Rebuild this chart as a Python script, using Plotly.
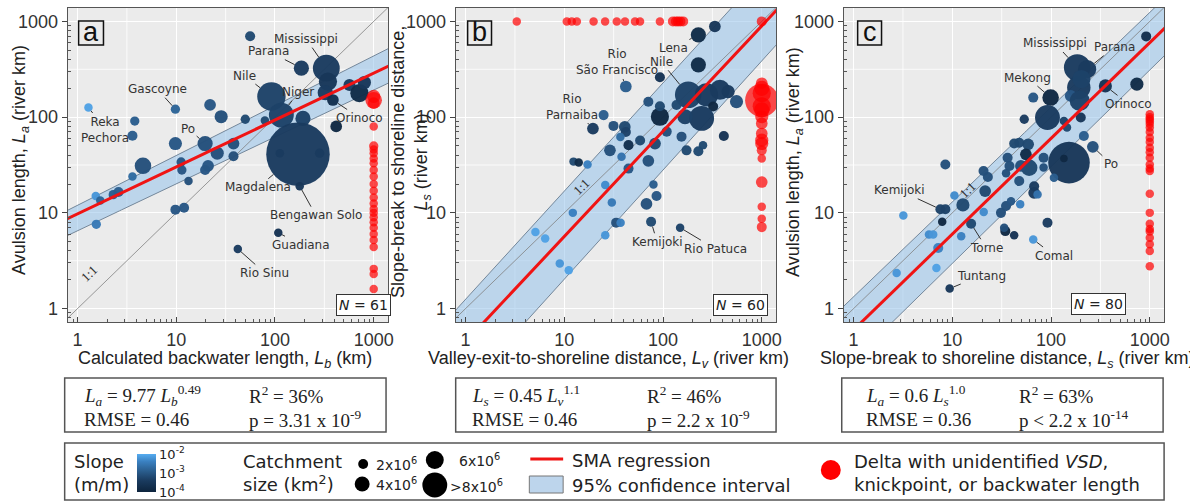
import numpy as np
import plotly.graph_objects as go

W, H = 1190, 501

# ------------------------------------------------------------------ data
# Panel a: calculated backwater length Lb (km) vs avulsion length La (river km)
a_Lb = [56, 185, 331, 344, 323, 386, 92, 116, 192, 79, 50, 568, 716, 805, 417, 171, 283, 112, 178, 108,
        42, 1.29, 3.8, 3.6, 9.8, 22, 28.5, 9.8, 19.6, 26, 38, 38, 4.6, 3.6, 11.2, 11.4, 21, 19.6, 13.3,
        1.53, 1.7, 2.3, 2.6, 1.55, 9.8, 12]
a_La = [700, 325, 325, 235, 180, 151, 164, 105, 97, 92, 95, 217, 178, 230, 80, 41, 42, 42, 19, 6.2,
        4.2, 126, 91, 64, 121, 134, 101, 53, 53, 42, 53, 39, 31, 24, 34, 28, 31, 28, 21.5,
        15, 13.5, 15.5, 16.5, 7.6, 10.8, 11.3]
a_area = [0.7, 1.6, 5.0, 2.3, 1.6, 0.95, 5.6, 4.3, 1.6, 0.5, 0.6, 1.0, 2.3, 1.2, 0.95, 28, 0.6, 0.5, 0.5, 0.5,
          0.5, 0.5, 0.6, 0.7, 0.6, 0.95, 1.2, 1.2, 1.6, 1.2, 0.95, 0.7, 1.9, 0.5, 0.6, 0.6, 0.95, 0.7, 0.5,
          0.5, 0.5, 0.6, 0.7, 0.6, 0.7, 0.7]
a_slope = [-3.2, -3.4, -3.4, -3.5, -3.4, -3.7, -3.3, -3.3, -3.3, -3.2, -3.2, -3.4, -3.8, -3.5, -3.9, -3.4, -3.4, -3.4, -3.5, -3.6,
           -3.4, -2.1, -2.9, -2.9, -2.8, -3.0, -3.1, -3.0, -3.1, -3.1, -3.1, -3.1, -3.1, -2.7, -3.0, -3.0, -3.0, -3.0, -3.1,
           -2.2, -2.8, -2.9, -2.9, -2.5, -3.0, -3.0]
a_labels = {"Parana": 1, "Mississippi": 2, "Orinoco": 5, "Nile": 6, "Niger": 7, "Magdalena": 15,
            "Bengawan Solo": 18, "Guadiana": 19, "Rio Sinu": 20, "Reka<br>Pechora": 21, "Gascoyne": 24, "Po": 28}
a_red_La = [165, 150, 140, 80, 50, 46, 42, 37, 33, 28, 24, 20, 17, 14.5, 12.5, 11, 10, 9, 8, 7, 6, 5.2, 4.4, 2.6, 2.3, 1.6]
a_red_area = [1.2, 1.9, 0.95, 0.5, 0.6, 0.5, 0.5, 0.5, 0.5, 0.5, 0.5, 0.5, 0.5, 0.5, 0.5, 0.5, 0.5, 0.5, 0.5, 0.5, 0.5, 0.5, 0.5, 0.5, 0.5, 0.5]

# Panel b: valley-exit-to-shoreline distance Lv vs slope-break-to-shoreline distance Ls
b_Lv = [335, 228, 228, 93, 42, 180, 276, 377, 457, 555, 322, 246, 167, 137, 93, 93, 71, 109, 154, 83,
        173, 228, 254, 413, 19.5, 25, 31.5, 41, 42, 44.7, 58.6, 37, 29, 38, 44.7, 71, 12.4, 14, 17.2, 26,
        80, 86, 68, 30.3, 12.2, 33.5, 37.2, 75.7, 149, 26, 5.1, 6.4, 9, 11.1]
b_Ls = [885, 724, 352, 261, 209, 171, 171, 193, 185, 145, 129, 97, 101, 134, 101, 130, 145, 70.6, 62.5, 53,
        45, 44, 51, 63.6, 76, 105, 81, 79, 70, 51, 57, 62, 45, 38.6, 29, 35, 34.3, 33.6, 32, 19.5,
        19.8, 15, 12.4, 12.8, 10, 7.9, 7.9, 8.07, 7.0, 5.85, 6.3, 5.4, 2.96, 2.52]
b_area = [0.95, 1.6, 1.6, 0.7, 0.95, 4.9, 3.8, 2.8, 1.2, 1.2, 0.7, 4.3, 1.6, 0.7, 2.3, 0.7, 0.7, 0.7, 0.7, 0.95,
          0.7, 0.7, 0.5, 0.7, 0.95, 0.7, 0.7, 0.95, 0.7, 0.7, 0.7, 0.5, 0.95, 0.5, 0.7, 0.95, 0.5, 0.5, 0.5, 0.5,
          0.5, 0.7, 0.95, 0.5, 0.5, 0.7, 0.5, 0.7, 0.5, 0.5, 0.5, 0.5, 0.5, 0.5]
b_slope = [-3.5, -3.8, -3.8, -3.6, -2.9, -3.3, -3.4, -3.4, -3.4, -3.1, -3.9, -3.4, -3.3, -3.2, -3.9, -3.2, -3.1, -3.1, -3.1, -3.2,
           -3.2, -3.2, -3.2, -3.6, -3.4, -2.9, -3.1, -3.2, -3.3, -3.7, -3.2, -2.7, -3.1, -2.6, -3.0, -3.1, -3.2, -3.8, -2.4, -2.3,
           -2.9, -3.0, -3.1, -2.5, -2.4, -3.1, -2.4, -3.2, -3.3, -2.2, -2.1, -2.1, -2.2, -2.1]
b_labels = {"Lena": 1, "Nile": 5, "Rio<br>São Francisco": 4, "Rio<br>Parnaiba": 24, "Kemijoki": 47, "Rio Patuca": 48}
b_red_Lv = [3.3, 10.6, 11.9, 13.4, 19.8, 25.9, 34, 41.2, 52, 58.5, 93, 126, 135, 142, 150, 160, 1000,
            1000, 1000, 1000, 1000, 1000, 1000, 1000, 1000, 1000, 1000, 1000, 1000, 1000, 1000, 1000, 1000, 1000]
b_red_Ls = [1000, 1000, 1000, 1000, 1000, 1000, 1000, 1000, 1000, 1000, 1000, 1000, 1000, 1000, 1000, 1000, 1000,
            226, 200, 178, 150, 130, 119, 101, 86, 67.5, 57.5, 53, 45, 37, 21, 11.6, 8.7, 7.1]
b_red_area = [0.5, 0.5, 0.5, 0.5, 0.5, 0.5, 0.5, 0.5, 0.5, 0.5, 0.5, 0.7, 0.7, 0.7, 0.7, 0.7, 0.7,
              0.95, 1.6, 2.3, 7.7, 2.3, 1.6, 1.2, 0.95, 0.95, 1.2, 1.2, 0.7, 0.5, 0.95, 0.5, 0.5, 0.7]

# Panel c: slope-break-to-shoreline distance Ls vs avulsion length La
c_Ls = [919, 184, 232, 191, 158, 195, 355, 740, 99, 92, 66, 53.5, 135, 145, 200, 215, 265, 152, 135, 107,
        84, 84, 58.6, 47.6, 42.3, 55.6, 60, 49.5, 47.6, 36.3, 37.9, 35, 20.7, 22.9, 21.5, 67.4, 67.4, 73, 8.5, 10.5,
        12.8, 7.57, 8.5, 7.9, 3.19, 20.8, 31.1, 35, 39.3, 48.7, 15.5, 12.3, 5.8, 6.4, 7.2, 6.9, 2.73, 9.4, 34.4, 42.3,
        33.5, 66, 92, 203]
c_La = [697, 330, 317, 204, 167, 148, 212, 221, 160, 99, 160, 95, 91, 78, 99, 63.6, 49, 33.5, 37, 23.3,
        37.7, 29.7, 52, 54, 53, 40.9, 29.6, 30.9, 21.5, 37.7, 30.9, 26, 27.4, 23.7, 16.9, 19, 16.2, 15.6, 32, 15.2,
        12.1, 10.9, 10.9, 8.07, 9.4, 10.2, 10, 11.8, 13.2, 12.3, 7.7, 5.7, 5.95, 5.95, 4.3, 2.66, 2.36, 1.62, 6.45, 5.85,
        7.0, 5.27, 7.87, 250]
c_area = [0.7, 4.9, 2.3, 3.8, 0.95, 2.8, 1.2, 1.2, 1.9, 4.3, 0.7, 0.6, 0.5, 0.5, 0.7, 0.7, 0.95, 12, 0.4, 0.5,
          0.7, 0.5, 0.95, 0.7, 0.7, 0.95, 1.9, 0.95, 0.7, 0.7, 0.7, 0.5, 0.7, 0.7, 0.95, 0.7, 0.95, 0.5, 0.7, 0.5,
          1.2, 0.7, 0.7, 0.5, 0.5, 0.5, 0.7, 0.7, 0.5, 0.5, 0.7, 0.5, 0.5, 0.5, 0.7, 0.5, 0.5, 0.5, 0.7, 0.5,
          0.5, 0.5, 0.7, 2.3]
c_slope = [-3.7, -3.4, -3.4, -3.4, -3.0, -3.3, -3.6, -3.8, -3.9, -3.4, -3.0, -3.4, -3.3, -3.2, -3.5, -2.9, -3.1, -3.5, -3.9, -2.9,
           -3.1, -3.1, -3.2, -3.2, -3.2, -3.8, -3.2, -3.1, -3.1, -3.1, -3.1, -3.1, -3.1, -3.1, -3.2, -3.4, -3.4, -2.6, -3.1, -2.3,
           -3.2, -3.3, -3.3, -3.9, -2.2, -2.3, -3.1, -3.1, -3.0, -2.4, -3.2, -2.4, -2.3, -2.2, -2.4, -2.1, -2.2, -3.5, -3.9, -3.6,
           -3.1, -2.2, -3.4, -3.3]
c_labels = {"Mississippi": 1, "Parana": 2, "Orinoco": 6, "Mekong": 8, "Po": 16, "Kemijoki": 41,
            "Torne": 50, "Tuntang": 57, "Comal": 61}
c_red_La = [107, 100, 95, 90, 85, 78, 70, 61, 55, 48, 43, 37.7, 32, 29, 27.4, 15.8, 10, 7.7, 6.8, 6.4, 5.5, 4.7, 4.0, 2.77]

UNIDENTIFIED = 1000  # deltas lacking VSD / knickpoint / backwater length, plotted at 1000

# SMA regressions (coef * x ** exp) and 95% confidence band edges
fits = {
    "a": dict(coef=9.77, exp=0.49, up=(12.0, 0.52), lo=(6.5, 0.49)),
    "b": dict(coef=0.45, exp=1.1, up=(1.25, 1.13), lo=(0.147, 1.14)),
    "c": dict(coef=0.6, exp=1.0, up=(1.33, 0.99), lo=(0.29, 1.01)),
}
stats = {
    "a": ["<i>L<sub>a</sub></i> = 9.77 <i>L<sub>b</sub></i><sup>0.49</sup>", "RMSE = 0.46",
          "R<sup>2</sup> = 36%", "p = 3.31 x 10<sup>-9</sup>"],
    "b": ["<i>L<sub>s</sub></i> = 0.45 <i>L<sub>v</sub></i><sup>1.1</sup>", "RMSE = 0.46",
          "R<sup>2</sup> = 46%", "p = 2.2 x 10<sup>-9</sup>"],
    "c": ["<i>L<sub>a</sub></i> = 0.6 <i>L<sub>s</sub></i><sup>1.0</sup>", "RMSE = 0.36",
          "R<sup>2</sup> = 63%", "p &lt; 2.2 x 10<sup>-14</sup>"],
}
n_points = {"a": 61, "b": 60, "c": 80}
tick_vals = [1, 10, 100, 1000]
tick_text = ["1", "10", "100", "1000"]

# ------------------------------------------------------------------ helpers / styling
def px(x):
    return x / W


def py(y):
    return 1 - y / H


def msize(area):
    return 12 * np.sqrt(np.asarray(area, dtype=float))


LOG_RANGE_X = [-0.1, 3.145]
LOG_RANGE_Y = [-0.14, 3.14]
PANEL_X = {"a": (68, 390), "b": (458, 780), "c": (848, 1170)}
PANEL_Y = (8, 322)
COLORSCALE = [[0.0, "#0d243d"], [0.3, "#1a3b5f"], [0.55, "#2a5d8d"], [0.8, "#3a80c0"], [1.0, "#56acf0"]]
RED = "#ff0000"
LABEL_FONT = dict(family="DejaVu Sans", size=12, color="#333")

minor_vals = [k * 10 ** d for d in range(-1, 4) for k in range(2, 10)]
half_dec = [10 ** (d + 0.5) for d in range(-1, 4)]

fig = go.Figure()
shapes, annotations = [], []

panel_data = {
    "a": (a_Lb, a_La, a_area, a_slope, a_labels,
          [UNIDENTIFIED] * len(a_red_La), a_red_La, a_red_area),
    "b": (b_Lv, b_Ls, b_area, b_slope, b_labels, b_red_Lv, b_red_Ls, b_red_area),
    "c": (c_Ls, c_La, c_area, c_slope, c_labels,
          [UNIDENTIFIED] * len(c_red_La), c_red_La, [0.5] * len(c_red_La)),
}

xgrid = np.logspace(-0.5, 3.5, 200)

for i, key in enumerate(["a", "b", "c"]):
    n = "" if i == 0 else str(i + 1)
    xa, ya = "x" + n, "y" + n
    xs, ys, area, slope, labels, rx, ry, rarea = panel_data[key]
    f = fits[key]

    # half-decade white grid lines
    gx, gy = [], []
    for v in half_dec:
        gx += [v, v, None, 0.1, 1e4, None]
        gy += [0.1, 1e4, None, v, v, None]
    fig.add_trace(go.Scatter(x=gx, y=gy, mode="lines", line=dict(color="white", width=0.8),
                             hoverinfo="skip", xaxis=xa, yaxis=ya))

    # confidence band
    up = f["up"][0] * xgrid ** f["up"][1]
    lo = f["lo"][0] * xgrid ** f["lo"][1]
    fig.add_trace(go.Scatter(x=np.concatenate([xgrid, xgrid[::-1]]), y=np.concatenate([up, lo[::-1]]),
                             mode="lines", fill="toself", fillcolor="rgba(150,195,235,0.55)",
                             line=dict(color="#74879a", width=1), hoverinfo="skip", xaxis=xa, yaxis=ya))
    # 1:1 line
    fig.add_trace(go.Scatter(x=[0.1, 1e4], y=[0.1, 1e4], mode="lines", line=dict(color="#808080", width=0.8),
                             hoverinfo="skip", xaxis=xa, yaxis=ya))
    # data points
    fig.add_trace(go.Scatter(x=xs, y=ys, mode="markers",
                             marker=dict(size=msize(area), color=slope, coloraxis="coloraxis",
                                         opacity=0.97, line=dict(width=0)),
                             xaxis=xa, yaxis=ya))
    # regression line
    fig.add_trace(go.Scatter(x=xgrid, y=f["coef"] * xgrid ** f["exp"], mode="lines",
                             line=dict(color="#f01414", width=3), hoverinfo="skip", xaxis=xa, yaxis=ya))
    # unidentified deltas
    fig.add_trace(go.Scatter(x=rx, y=ry, mode="markers",
                             marker=dict(size=msize(rarea), color=RED, line=dict(width=0)),
                             xaxis=xa, yaxis=ya))

    x0, x1 = PANEL_X[key]
    common = dict(type="log", showline=True, mirror=True, linecolor="#555", linewidth=1.2,
                  showgrid=True, gridcolor="white", gridwidth=1.3, zeroline=False,
                  tickmode="array", tickvals=tick_vals, ticktext=tick_text,
                  ticklen=5, tickcolor="#444", tickfont=dict(size=18, color="#333"))
    fig.update_layout(**{
        "xaxis" + n: dict(domain=[px(x0), px(x1)], range=LOG_RANGE_X, anchor=ya, ticks="inside",
                          ticklabelstandoff=1,
                          minor=dict(tickmode="array", tickvals=minor_vals, ticks="inside", ticklen=3,
                                     tickcolor="#555", showgrid=False),
                          **common),
        "yaxis" + n: dict(domain=[py(PANEL_Y[1]), py(PANEL_Y[0])], range=LOG_RANGE_Y, anchor=xa, ticks="outside",
                          minor=dict(tickmode="array", tickvals=minor_vals, ticks="inside", ticklen=3,
                                     tickcolor="#555", showgrid=False),
                          **common),
    })

    # river labels
    offsets = {
        "a": {"Mississippi": (-20, -29), "Parana": (-33, -17), "Nile": (-27, -21), "Niger": (17, -23),
              "Orinoco": (27, 18), "Gascoyne": (-18, -20), "Reka<br>Pechora": (17, 22), "Po": (-17, -15),
              "Magdalena": (-40, 33), "Bengawan Solo": (16, 29), "Guadiana": (23, 12), "Rio Sinu": (27, 24)},
        "b": {"Lena": (-25, 13), "Nile": (-27, -33), "Rio<br>São Francisco": (-9, -24),
              "Rio<br>Parnaiba": (-21, -22), "Kemijoki": (6, 20), "Rio Patuca": (35, 21)},
        "c": {"Mississippi": (-22, -24), "Parana": (27, -22), "Mekong": (-23, -20), "Orinoco": (23, 18),
              "Po": (18, 17), "Kemijoki": (-41, -19), "Torne": (15, 24), "Comal": (21, 16), "Tuntang": (32, -13)},
    }[key]
    for name, idx in labels.items():
        ax_, ay_ = offsets[name]
        annotations.append(dict(x=np.log10(xs[idx]), y=np.log10(ys[idx]), xref=xa, yref=ya, text=name,
                                showarrow=True, arrowhead=0, arrowwidth=1, arrowcolor="#333",
                                ax=ax_, ay=ay_, standoff=float(msize(area[idx])) / 2,
                                font=LABEL_FONT, align="center"))

    # 1:1 label
    one = {"a": (1.31, 2.32), "b": (15, 18.8), "c": (14.4, 17.6)}[key]
    annotations.append(dict(x=np.log10(one[0]), y=np.log10(one[1]), xref=xa, yref=ya, text="1:1",
                            showarrow=False, textangle=-44,
                            font=dict(family="Liberation Serif", size=13, color="#333")))

    # panel letter
    lb = {"a": (79, 21, 104, 45), "b": (470, 21, 494, 45), "c": (862, 21, 886, 45)}[key]
    shapes.append(dict(type="rect", xref="paper", yref="paper", x0=px(lb[0]), x1=px(lb[2]),
                       y0=py(lb[3]), y1=py(lb[1]), line=dict(color="#111", width=1.5)))
    annotations.append(dict(x=px((lb[0] + lb[2]) / 2), y=py((lb[1] + lb[3]) / 2 - 1), xref="paper", yref="paper",
                            text=key, showarrow=False, xanchor="center", yanchor="middle",
                            font=dict(family="Liberation Sans", size=27, color="#111")))
    # N box
    nb = {"a": (338, 305), "b": (744, 305), "c": (1132, 304)}[key]
    annotations.append(dict(x=px(nb[0]), y=py(nb[1]), xref="paper", yref="paper",
                            text="<i>N</i> = %d" % n_points[key], showarrow=False,
                            bgcolor="white", bordercolor="#333", borderwidth=1, borderpad=2,
                            font=dict(family="DejaVu Sans", size=14, color="#222")))

    # statistics box
    eb = {"a": (65, 388, 82, 248), "b": (458, 780, 472, 648), "c": (846, 1169, 868, 1022)}[key]
    shapes.append(dict(type="rect", xref="paper", yref="paper", x0=px(eb[0]), x1=px(eb[1]),
                       y0=py(432), y1=py(378), line=dict(color="#555", width=1.5), fillcolor="white"))
    for j, txt in enumerate(stats[key]):
        annotations.append(dict(x=px(eb[2] if j < 2 else eb[3]), y=py(395 if j % 2 == 0 else 419),
                                xref="paper", yref="paper", text=txt, showarrow=False,
                                xanchor="left", yanchor="middle",
                                font=dict(family="Liberation Serif", size=19, color="#222")))

# axis titles
title_font = dict(family="Liberation Sans", size=18, color="#222")
for txt, x, y, ang in [
    ("Calculated backwater length, <i>L<sub>b</sub></i> (km)", 226, 359, 0),
    ("Valley-exit-to-shoreline distance, <i>L<sub>v</sub></i> (river km)", 612, 359, 0),
    ("Slope-break to shoreline distance, <i>L<sub>s</sub></i> (river km)", 1012, 359, 0),
    ("Avulsion length, <i>L<sub>a</sub></i> (river km)", 20, 160, -90),
    ("Slope-break to shoreline distance,<br><i>L<sub>s</sub></i> (river km)", 413, 162, -90),
    ("Avulsion length, <i>L<sub>a</sub></i> (river km)", 798, 162, -90),
]:
    annotations.append(dict(x=px(x), y=py(y), xref="paper", yref="paper", text=txt, showarrow=False,
                            textangle=ang, xanchor="center", yanchor="middle", font=title_font))

# ------------------------------------------------------------------ legend box
shapes.append(dict(type="rect", xref="paper", yref="paper", x0=px(65), x1=px(1170), y0=py(500), y1=py(443),
                   line=dict(color="#555", width=1.5), fillcolor="white"))
leg_font = dict(family="DejaVu Sans", size=18, color="#222")
small_font = dict(family="DejaVu Sans", size=14, color="#222")
for txt, x, y, fnt in [
    ("Slope<br>(m/m)", 72, 473, leg_font),
    ("Catchment<br>size (km<sup>2</sup>)", 242, 473, leg_font),
    ("2x10<sup>6</sup>", 376, 464, small_font),
    ("4x10<sup>6</sup>", 376, 484, small_font),
    ("6x10<sup>6</sup>", 459, 460, small_font),
    ("&gt;8x10<sup>6</sup>", 450, 486, small_font),
    ("SMA regression", 573, 460, leg_font),
    ("95% confidence interval", 573, 485, leg_font),
    ("Delta with unidentified <i>VSD</i>,<br>knickpoint, or backwater length", 856, 473, leg_font),
]:
    annotations.append(dict(x=px(x), y=py(y), xref="paper", yref="paper", text=txt, showarrow=False,
                            xanchor="left", yanchor="middle", align="left", font=fnt))

for cx, cy, d in [(365, 464, 10), (364, 484, 15), (437, 460, 18), (437, 485, 25)]:
    shapes.append(dict(type="circle", xref="paper", yref="paper", x0=px(cx - d / 2), x1=px(cx + d / 2),
                       y0=py(cy + d / 2), y1=py(cy - d / 2), fillcolor="black", line=dict(width=0)))
shapes.append(dict(type="line", xref="paper", yref="paper", x0=px(533), x1=px(566), y0=py(459), y1=py(459),
                   line=dict(color="#f01414", width=3)))
shapes.append(dict(type="rect", xref="paper", yref="paper", x0=px(532), x1=px(566), y0=py(493), y1=py(476),
                   fillcolor="#bdd5ec", line=dict(color="#777", width=1)))
shapes.append(dict(type="circle", xref="paper", yref="paper", x0=px(825), x1=px(845), y0=py(480), y1=py(460),
                   fillcolor=RED, line=dict(width=0)))

fig.update_layout(
    width=W, height=H, margin=dict(l=0, r=0, t=0, b=0),
    paper_bgcolor="white", plot_bgcolor="#ebebeb", showlegend=False,
    font=dict(family="Liberation Sans", size=18, color="#222"),
    coloraxis=dict(colorscale=COLORSCALE, cmin=-4, cmax=-2,
                   colorbar=dict(x=px(138), xanchor="left", y=py(473), yanchor="middle",
                                 len=38, lenmode="pixels", thickness=19, thicknessmode="pixels",
                                 xpad=0, ypad=0, outlinewidth=0, ticks="",
                                 tickmode="array", tickvals=[-2, -3, -4],
                                 ticktext=["10<sup>-2</sup>", "10<sup>-3</sup>", "10<sup>-4</sup>"],
                                 tickfont=dict(family="DejaVu Sans", size=13, color="#222"))),
    shapes=shapes, annotations=annotations,
)

fig.write_html("out.html", config={"displayModeBar": False},
               post_script="document.body.style.margin='0px';document.body.style.overflow='hidden';")
